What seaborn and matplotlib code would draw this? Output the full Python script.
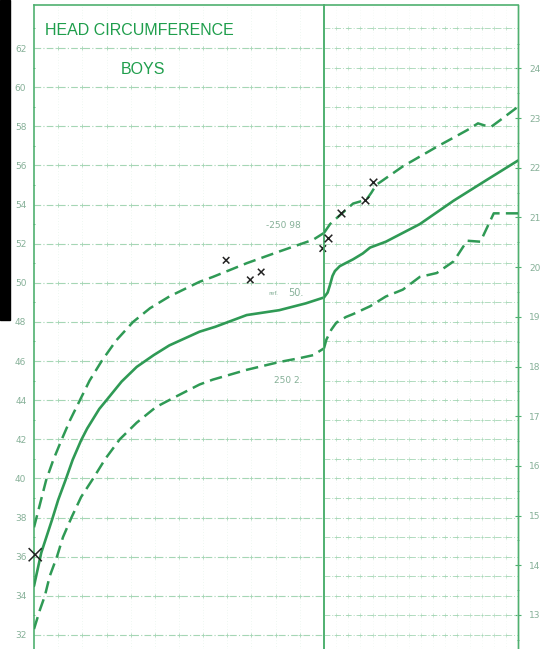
import matplotlib
matplotlib.use("Agg")
import matplotlib.pyplot as plt
import numpy as np
import pandas as pd
import seaborn as sns

# Head circumference centiles, boys (cm) - infant panel (months)
p98_inf_months = [0, 0.5, 1.0, 1.6, 2.3, 3.0, 3.8, 4.6, 5.6, 6.8, 8.2, 9.6, 11.2, 13.7, 14.8, 17.6, 20.3, 23.1, 24.0]
p98_inf_cm = [37.5, 38.7, 39.9, 40.95, 42.0, 43.0, 44.0, 45.0, 46.0, 47.05, 48.0, 48.7, 49.3, 50.05, 50.3, 51.0, 51.6, 52.2, 52.55]
p50_inf_months = [0, 0.6, 1.5, 2.0, 2.6, 3.2, 3.9, 4.4, 4.9, 5.4, 6.0, 7.25, 8.5, 9.9, 11.2, 13.7, 15.0, 17.6, 20.3, 22.5, 24.0]
p50_inf_cm = [34.5, 36.2, 37.9, 38.9, 39.9, 40.95, 41.95, 42.55, 43.05, 43.55, 44.0, 44.95, 45.7, 46.3, 46.8, 47.5, 47.75, 48.35, 48.6, 48.95, 49.25]
p2_inf_months = [0, 0.5, 0.9, 1.3, 1.9, 2.4, 3.1, 3.9, 4.9, 5.9, 7.1, 8.5, 10.1, 11.8, 13.7, 14.8, 17.6, 20.3, 22.0, 23.1, 24.0]
p2_inf_cm = [32.3, 33.3, 34.0, 35.0, 36.0, 37.0, 38.0, 39.05, 40.0, 41.0, 42.0, 42.85, 43.65, 44.2, 44.8, 45.05, 45.55, 45.95, 46.15, 46.3, 46.65]

# child panel (years)
p98_child_years = [2.0, 2.5, 3.3, 4.4, 5.5, 5.9, 6.3, 8.5, 11.3, 13.8, 14.7, 15.2, 15.8, 16.5, 18.0]
p98_child_cm = [52.55, 53.0, 53.45, 54.05, 54.25, 54.6, 55.0, 55.95, 56.95, 57.8, 58.15, 58.05, 57.98, 58.3, 59.0]
p50_child_years = [2.0, 2.3, 2.5, 2.7, 2.9, 3.3, 4.4, 5.2, 5.8, 7.1, 9.9, 12.7, 15.4, 18.0]
p50_child_cm = [49.25, 49.5, 49.9, 50.35, 50.6, 50.85, 51.2, 51.5, 51.8, 52.1, 53.0, 54.2, 55.25, 56.25]
p2_child_years = [2.0, 2.2, 2.6, 3.0, 3.8, 4.4, 5.8, 7.1, 8.5, 9.9, 11.3, 12.7, 13.8, 14.9, 16.0, 18.0]
p2_child_cm = [46.65, 47.1, 47.6, 47.95, 48.25, 48.4, 48.8, 49.3, 49.65, 50.3, 50.5, 51.1, 52.15, 52.1, 53.55, 53.55]

# patient measurements
visit_months = [0.1, 15.9, 17.9, 18.8, 23.9]
visit_months_cm = [36.1, 51.15, 50.15, 50.55, 51.75]
visit_years = [2.3, 3.4, 5.4, 6.0]
visit_years_cm = [52.3, 53.55, 54.25, 55.15]

cm_ticks = list(range(32, 64, 2))
inch_ticks = list(range(13, 25))

sns.set_style("white")
plt.rcParams["font.family"] = ["DejaVu Sans"]

curve = "#2f9a55"
frame = "#4fb070"
gridc = "#a5d6b5"
textc = "#86b098"
ylim = (31.28, 64.2)

fig = plt.figure(figsize=(5.45, 6.49), dpi=100)
top = 1 - 5 / 649
axl = fig.add_axes([34 / 545, 0, 290 / 545, top])
axr = fig.add_axes([324 / 545, 0, 194 / 545, top], sharey=axl)

# scanner edge artifact
fig.patches.append(plt.Rectangle((0, 1 - 320 / 649), 10 / 545, 320 / 649,
                                 transform=fig.transFigure, color="black", zorder=0))

dash = (0, (5, 2.5))
grid_ls = (0, (6, 2, 1, 2))

# ---- infant panel grid
axl.set_xlim(0, 24)
axl.set_ylim(*ylim)
for m in range(2, 24, 2):
    axl.axvline(m, color=gridc, lw=0.5, ls=(0, (1, 3)), alpha=0.35, zorder=1)
for c in cm_ticks:
    axl.axhline(c, color=gridc, lw=0.8, ls=grid_ls, zorder=1)
gx, gy = np.meshgrid(range(2, 24, 2), cm_ticks)
axl.plot(gx.ravel(), gy.ravel(), ls="none", marker="+", ms=2.5, mew=0.6, color=gridc, zorder=1)

# ---- child panel grid
axr.set_xlim(2, 18)
for y in range(3, 18):
    axr.axvline(y, color=gridc, lw=0.5, ls=(0, (1, 3)), alpha=0.2, zorder=1)
for c in range(32, 64):
    axr.axhline(c, color=gridc, lw=0.7, ls=grid_ls, alpha=0.85, zorder=1)
gx, gy = np.meshgrid(range(3, 18), range(32, 64))
axr.plot(gx.ravel(), gy.ravel(), ls="none", marker="+", ms=2.2, mew=0.5, color=gridc, alpha=0.8, zorder=1)

# ---- centile curves
sns.lineplot(x=p98_inf_months, y=p98_inf_cm, ax=axl, color=curve, lw=1.8, ls=dash, estimator=None, zorder=3)
sns.lineplot(x=p50_inf_months, y=p50_inf_cm, ax=axl, color=curve, lw=1.9, estimator=None, zorder=3)
sns.lineplot(x=p2_inf_months, y=p2_inf_cm, ax=axl, color=curve, lw=1.8, ls=dash, estimator=None, zorder=3)
sns.lineplot(x=p98_child_years, y=p98_child_cm, ax=axr, color=curve, lw=1.8, ls=dash, estimator=None, zorder=3)
sns.lineplot(x=p50_child_years, y=p50_child_cm, ax=axr, color=curve, lw=1.9, estimator=None, zorder=3)
sns.lineplot(x=p2_child_years, y=p2_child_cm, ax=axr, color=curve, lw=1.8, ls=dash, estimator=None, zorder=3)

# ---- measurements
sizes = [90] + [22] * (len(visit_months) - 1)
axl.scatter(visit_months, visit_months_cm, marker="x", s=sizes, color="#222222", lw=1.1, zorder=5, clip_on=False)
axr.scatter(visit_years, visit_years_cm, marker="x", s=30, color="#222222", lw=1.1, zorder=5)

# ---- labels
title_font = ["Liberation Sans", "DejaVu Sans"]
axl.text(8.76, 62.92, "HEAD CIRCUMFERENCE", family=title_font, fontsize=11.5, color="#1f9e4c",
         ha="center", va="center", zorder=4)
axl.text(9.0, 60.88, "BOYS", family=title_font, fontsize=11.5, color="#1f9e4c",
         ha="center", va="center", zorder=4)
axl.text(20.6, 52.95, "-250 98", fontsize=6.5, color=textc, ha="center", va="center")
axl.text(19.8, 49.45, "ref.", fontsize=4.5, color=textc, ha="center", va="center")
axl.text(21.7, 49.5, "50.", fontsize=7, color=textc, ha="center", va="center")
axl.text(21.0, 45.03, "250 2.", fontsize=6.5, color=textc, ha="center", va="center")

# ---- axes styling
for ax in (axl, axr):
    ax.set_facecolor("none")
    for s in ax.spines.values():
        s.set_color(frame)
        s.set_linewidth(1.2)
    ax.spines["bottom"].set_visible(False)
    ax.set_xticks([])
    ax.set_xlabel("")
    ax.set_ylabel("")

axl.set_yticks(cm_ticks)
axl.set_yticks(range(33, 64, 2), minor=True)
axl.tick_params(axis="y", which="major", length=3, direction="inout", color=frame,
                labelsize=6.5, labelcolor=textc, pad=4)
axl.tick_params(axis="y", which="minor", length=2, direction="inout", color=frame, left=True)
axr.tick_params(axis="y", left=False, labelleft=False)
axr.spines["right"].set_linewidth(1.0)

sec = axr.secondary_yaxis("right", functions=(lambda c: c / 2.54, lambda i: i * 2.54))
sec.set_yticks(inch_ticks)
sec.set_yticks(np.arange(12.5, 25, 1.0), minor=True)
sec.tick_params(axis="y", which="major", length=4, direction="inout", color=frame,
                labelsize=6.5, labelcolor=textc, pad=6)
sec.tick_params(axis="y", which="minor", length=2, direction="inout", color=frame)
sec.spines["right"].set_color(frame)
sec.spines["right"].set_linewidth(1.0)

fig.savefig("out.png", dpi=100, facecolor="white")
